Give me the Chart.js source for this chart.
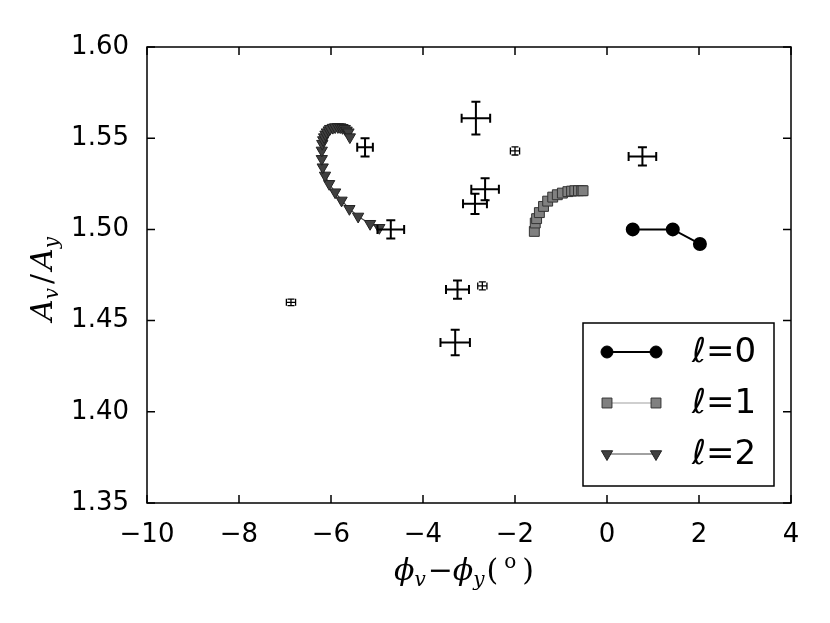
<!DOCTYPE html>
<html lang="en">
<head>
    <meta charset="UTF-8">
    <title>A_v / A_y vs phase</title>
    <style>
        body { margin: 0; padding: 0; background: white; }
        #wrap { width: 830px; height: 623px; }
    </style>
</head>
<body>
    <div id="wrap"><canvas id="chart" width="830" height="623"></canvas></div>
    <script src="https://cdn.jsdelivr.net/npm/chart.js"></script>
    <script>
        // l = 0
        const l0X = [0.56, 1.43, 2.02];
        const l0Y = [1.500, 1.500, 1.492];
        // l = 1
        const l1X = [-1.58, -1.56, -1.53, -1.47, -1.38, -1.29, -1.18, -1.08, -0.97, -0.85, -0.77, -0.70, -0.62, -0.55, -0.52];
        const l1Y = [1.4989, 1.5035, 1.5059, 1.5092, 1.5126, 1.5155, 1.5177, 1.5190, 1.5199, 1.5207, 1.5210, 1.5212, 1.5212, 1.5212, 1.5212];
        // l = 2
        const l2X = [-4.95, -5.15, -5.41, -5.60, -5.77, -5.91, -6.04, -6.13, -6.18, -6.20, -6.20, -6.19, -6.17, -6.15, -6.12, -6.09, -6.05, -6.02, -5.96, -5.91, -5.85, -5.80, -5.75, -5.70, -5.66, -5.62, -5.59];
        const l2Y = [1.5009, 1.5031, 1.5071, 1.5113, 1.5159, 1.5204, 1.5250, 1.5296, 1.5341, 1.5387, 1.5433, 1.5470, 1.5490, 1.5506, 1.5521, 1.5533, 1.5544, 1.5552, 1.5558, 1.5561, 1.5562, 1.5561, 1.5557, 1.5552, 1.5543, 1.5533, 1.5506];
        // measurements with error bars
        const obsX = [-2.85, -2.00, -2.65, -2.87, -5.26, -4.70, 0.77, -6.87, -3.25, -2.71, -3.30];
        const obsY = [1.561, 1.543, 1.522, 1.514, 1.545, 1.500, 1.540, 1.460, 1.467, 1.469, 1.438];
        const obsXErr = [0.31, 0.10, 0.30, 0.26, 0.17, 0.29, 0.30, 0.10, 0.25, 0.10, 0.32];
        const obsYErr = [0.009, 0.0022, 0.006, 0.0055, 0.005, 0.005, 0.005, 0.0018, 0.005, 0.0022, 0.007];

        const xTicks = [-10, -8, -6, -4, -2, 0, 2, 4];
        const yTicks = [1.35, 1.40, 1.45, 1.50, 1.55, 1.60];
        const legendLabels = ["ℓ=0", "ℓ=1", "ℓ=2"];

        function pts(xs, ys) {
            return xs.map((x, i) => ({ x: x, y: ys[i] }));
        }

        const errorBars = {
            id: "errorBars",
            afterDatasetsDraw(chart) {
                const ctx = chart.ctx;
                const xs = chart.scales.x, ys = chart.scales.y;
                ctx.save();
                ctx.strokeStyle = "#000";
                for (let i = 0; i < obsX.length; i++) {
                    const cx = xs.getPixelForValue(obsX[i]);
                    const cy = ys.getPixelForValue(obsY[i]);
                    const x1 = xs.getPixelForValue(obsX[i] - obsXErr[i]);
                    const x2 = xs.getPixelForValue(obsX[i] + obsXErr[i]);
                    const y1 = ys.getPixelForValue(obsY[i] - obsYErr[i]);
                    const y2 = ys.getPixelForValue(obsY[i] + obsYErr[i]);
                    const small = (x2 - x1) < 12;
                    const cap = small ? 3.5 : 4.5;
                    ctx.lineWidth = small ? 1.3 : 2;
                    ctx.beginPath();
                    ctx.moveTo(x1, cy); ctx.lineTo(x2, cy);
                    ctx.moveTo(cx, y1); ctx.lineTo(cx, y2);
                    ctx.moveTo(x1, cy - cap); ctx.lineTo(x1, cy + cap);
                    ctx.moveTo(x2, cy - cap); ctx.lineTo(x2, cy + cap);
                    ctx.moveTo(cx - cap, y1); ctx.lineTo(cx + cap, y1);
                    ctx.moveTo(cx - cap, y2); ctx.lineTo(cx + cap, y2);
                    ctx.stroke();
                }
                ctx.restore();
            }
        };

        // frame, inward ticks, axis titles, legend
        const decorations = {
            id: "decorations",
            afterDraw(chart) {
                const ctx = chart.ctx;
                const a = chart.chartArea;
                const xs = chart.scales.x, ys = chart.scales.y;
                ctx.save();
                ctx.strokeStyle = "#000";
                ctx.lineWidth = 1.5;
                ctx.strokeRect(a.left, a.top, a.right - a.left, a.bottom - a.top);
                ctx.beginPath();
                xTicks.forEach(t => {
                    const px = xs.getPixelForValue(t);
                    ctx.moveTo(px, a.bottom); ctx.lineTo(px, a.bottom - 8);
                    ctx.moveTo(px, a.top); ctx.lineTo(px, a.top + 8);
                });
                yTicks.forEach(t => {
                    const py = ys.getPixelForValue(t);
                    ctx.moveTo(a.left, py); ctx.lineTo(a.left + 8, py);
                    ctx.moveTo(a.right, py); ctx.lineTo(a.right - 8, py);
                });
                ctx.stroke();

                // axis titles
                const it = "italic 30px 'DejaVu Serif'";
                const sub = "italic 20px 'DejaVu Serif'";
                const rm = "30px 'DejaVu Serif'";
                function drawParts(parts, x, y) {
                    let w = 0;
                    parts.forEach(p => { ctx.font = p[1]; w += ctx.measureText(p[0]).width + (p[3] || 0); });
                    let cx = x - w / 2;
                    parts.forEach(p => {
                        ctx.font = p[1];
                        ctx.fillText(p[0], cx, y + p[2]);
                        cx += ctx.measureText(p[0]).width + (p[3] || 0);
                    });
                }
                ctx.fillStyle = "#000";
                ctx.textBaseline = "alphabetic";
                ctx.textAlign = "left";
                drawParts([["ϕ", it, 0], ["v", sub, 6, 2], ["−", rm, 0], ["ϕ", it, 0], ["y", sub, 6, 2],
                           ["(", rm, 0, 6], ["o", "20px 'DejaVu Serif'", -12, 6], [")", rm, 0]], 464, 580);
                ctx.save();
                ctx.translate(52, 279);
                ctx.rotate(-Math.PI / 2);
                drawParts([["A", it, 0], ["v", sub, 6, 4], ["/", rm, 0, 4], ["A", it, 0], ["y", sub, 6]], 0, 0);
                ctx.restore();

                // legend
                ctx.lineWidth = 1.5;
                ctx.strokeStyle = "#000";
                ctx.fillStyle = "#fff";
                ctx.fillRect(583, 323, 191, 163);
                ctx.strokeRect(583, 323, 191, 163);
                const rows = [352, 403, 454];
                chart.data.datasets.slice(0, 3).forEach((ds, i) => {
                    const y = rows[i];
                    ctx.beginPath();
                    ctx.strokeStyle = ds.borderColor;
                    ctx.lineWidth = ds.borderWidth;
                    ctx.moveTo(607, y); ctx.lineTo(656, y);
                    ctx.stroke();
                    [607, 656].forEach(px => {
                        ctx.fillStyle = ds.pointBackgroundColor;
                        ctx.strokeStyle = ds.pointBorderColor;
                        ctx.lineWidth = 1;
                        Chart.helpers.drawPoint(ctx, {
                            pointStyle: ds.pointStyle, radius: ds.pointRadius,
                            rotation: ds.pointRotation || 0, borderWidth: 1
                        }, px, y);
                    });
                    ctx.fillStyle = "#000";
                    ctx.font = "34px 'DejaVu Sans'";
                    ctx.textBaseline = "middle";
                    ctx.fillText(legendLabels[i], 692, y + 1);
                });
                ctx.restore();
            }
        };

        const chart = new Chart(document.getElementById("chart"), {
            type: "scatter",
            data: {
                datasets: [
                    {
                        label: legendLabels[0], data: pts(l0X, l0Y), showLine: true,
                        borderColor: "#000", borderWidth: 2, backgroundColor: "#000",
                        pointStyle: "circle", pointRadius: 6, pointBorderColor: "#000",
                        pointBackgroundColor: "#000"
                    },
                    {
                        label: legendLabels[1], data: pts(l1X, l1Y), showLine: true,
                        borderColor: "#a0a0a0", borderWidth: 1.2, backgroundColor: "#808080",
                        pointStyle: "rect", pointRadius: 7, pointBorderColor: "#333",
                        pointBorderWidth: 1, pointBackgroundColor: "#808080"
                    },
                    {
                        label: legendLabels[2], data: pts(l2X, l2Y), showLine: true,
                        borderColor: "#444", borderWidth: 1.2, backgroundColor: "#404040",
                        pointStyle: "triangle", pointRotation: 180, pointRadius: 6.5,
                        pointBorderColor: "#222", pointBorderWidth: 1, pointBackgroundColor: "#404040"
                    },
                    {
                        label: "obs", data: pts(obsX, obsY), showLine: false,
                        pointRadius: 0, borderColor: "#000"
                    }
                ]
            },
            options: {
                responsive: false,
                animation: false,
                layout: { padding: { left: 0, right: 39, top: 47, bottom: 0 } },
                plugins: { legend: { display: false }, tooltip: { enabled: false } },
                scales: {
                    x: {
                        type: "linear", min: -10, max: 4,
                        grid: { display: false }, border: { display: false },
                        afterBuildTicks: s => { s.ticks = xTicks.map(v => ({ value: v })); },
                        afterFit: s => { s.height = 120; },
                        ticks: {
                            padding: 9, color: "#000",
                            font: { family: "DejaVu Sans", size: 26 },
                            callback: v => String(v).replace("-", "−")
                        }
                    },
                    y: {
                        type: "linear", min: 1.35, max: 1.60,
                        grid: { display: false }, border: { display: false },
                        afterBuildTicks: s => { s.ticks = yTicks.map(v => ({ value: v })); },
                        afterFit: s => { s.width = 147; },
                        ticks: {
                            padding: 10, color: "#000",
                            font: { family: "DejaVu Sans", size: 26 },
                            callback: v => v.toFixed(2)
                        }
                    }
                }
            },
            plugins: [errorBars, decorations]
        });
    </script>
</body>
</html>
